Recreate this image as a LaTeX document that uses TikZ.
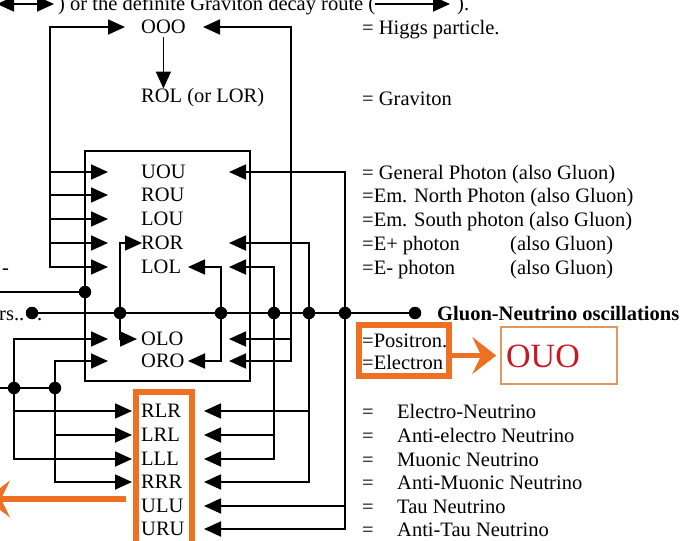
\documentclass[tikz,border=0pt]{standalone}
\usepackage{fontspec}
\setmainfont{Liberation Serif}
\usetikzlibrary{arrows.meta}
\definecolor{hlorange}{RGB}{237,112,35}
\definecolor{boxtan}{RGB}{222,152,98}
\definecolor{ouored}{RGB}{200,24,36}
\tikzset{
  wire/.style  ={line width=1.8pt},
  arr/.style   ={wire, -{Triangle[length=17pt,width=15pt]}},
  arrs/.style  ={wire, {Triangle[length=17pt,width=15pt]}-{Triangle[length=17pt,width=15pt]}},
  jdot/.style  ={circle, fill=black, inner sep=0pt, minimum size=12.5pt},
  code/.style  ={anchor=west, inner sep=0pt},
  lbl/.style   ={anchor=base west, inner sep=0pt},
  hilite/.style={draw=hlorange, line width=6pt},
  harr/.style  ={hlorange, line width=5.5pt, -{Stealth[length=24pt,width=37pt,inset=9pt]}},
}
\begin{document}
\begin{tikzpicture}[x=1pt,y=-1pt,font=\fontsize{20.5}{24}\selectfont]
  \useasboundingbox (0,0) rectangle (683,541);
  \clip (0,0) rectangle (683,541);
  % bus columns and arrow tip columns
  \coordinate (colA) at (50,0);  \coordinate (colB) at (120,0);
  \coordinate (colC) at (221,0); \coordinate (colD) at (274,0);
  \coordinate (colE) at (291,0); \coordinate (colF) at (309,0);
  \coordinate (colG) at (345,0); \coordinate (colH) at (14,0);
  \coordinate (colI) at (55,0);
  \coordinate (tipL) at (108,0); \coordinate (tipLb) at (132,0);
  \coordinate (tipR) at (229,0); \coordinate (tipRb) at (204,0);
  \coordinate (tipM) at (188,0); \coordinate (tipO) at (125,0);
  \coordinate (tipOr) at (203,0); \coordinate (tipS) at (142,0);
  \coordinate (tipSo) at (137,0);
  % header line (cut off)
  \coordinate (dblL) at (-3,4); \coordinate (dblR) at (54,4);
  \draw[arrs] (dblL) -- (dblR);
  \node[lbl] (route) at (58,10) {) or the definite Graviton decay route (};
  \coordinate (routeTip) at (450,4);
  \draw[arr] (route.east |- routeTip) -- (routeTip);
  \node[lbl] (routeEnd) at (457,10) {).};
  % codes
  \node[code] (OOO) at (141,27) {OOO};
  \node[code] (ROL) at (141,98) {ROL (or LOR)};
  \foreach \c/\y in {UOU/172,ROU/195,LOU/219,ROR/243,LOL/267,OLO/339,ORO/361,
                     RLR/411,LRL/435,LLL/459,RRR/482,ULU/506,URU/529}
    \node[code] (\c) at (141,\y) {\c};
  \draw[arr] ([yshift=-3pt]OOO.south) -- (OOO.south |- ROL.north);
  \draw[wire] (85,151) rectangle (250,381);
  % left feeds
  \draw[arrs] (tipL |- LOL) -| (colA |- OOO) -- (tipO |- OOO);
  \foreach \c in {UOU,ROU,LOU,ROR} \draw[arr] (colA |- \c) -- (tipL |- \c);
  \draw[arrs] (tipL |- OLO) -| (colH |- LLL) -- (tipLb |- LLL);
  \draw[arr] (colH |- RLR) -- (tipLb |- RLR);
  \draw[arrs] (tipL |- ORO) -| (colI |- RRR) -- (tipLb |- RRR);
  \draw[arr] (colI |- LRL) -- (tipLb |- LRL);
  % inner loops
  \draw[arrs] (tipS |- ROR) -| (colB |- OLO) -- (tipSo |- OLO);
  \draw[arrs] (tipM |- LOL) -| (colC |- ORO) -- (tipM |- ORO);
  % right feeds
  \draw[arrs] (tipR |- ORO) -| (colE |- OOO) -- (tipOr |- OOO);
  \draw[arr] (colE |- OLO) -- (tipR |- OLO);
  \draw[arrs] (tipR |- LOL) -| (colD |- LLL) -- (tipRb |- LLL);
  \draw[arr] (colD |- LRL) -- (tipRb |- LRL);
  \draw[arrs] (tipR |- ROR) -| (colF |- RRR) -- (tipRb |- RRR);
  \draw[arr] (colF |- RLR) -- (tipRb |- RLR);
  \draw[arrs] (tipR |- UOU) -| (colG |- URU) -- (tipRb |- URU);
  \draw[arr] (colG |- ULU) -- (tipRb |- ULU);
  % oscillation bus
  \node[jdot] (busL) at (32,313) {};
  \node[jdot] (busR) at (415,313) {};
  \draw[wire] (busL) -- (busR);
  \foreach \c in {colB,colC,colD,colF,colG} \node[jdot] (j\c) at (\c |- busL) {};
  \node[lbl] (others) at (-1,320) {rs..};
  \node[lbl] (othersDot) at (37,320) {.};
  \node[lbl] (dash) at (2,274) {-};
  \node[lbl] (osc) at (437,320) {\bfseries Gluon-Neutrino oscillations};
  \coordinate (feedW) at (0,292); \node[jdot] (jframe) at (85,292) {};
  \draw[wire] (feedW) -- (jframe);
  \coordinate (low) at (0,388);
  \node[jdot] (jH) at (colH |- low) {}; \node[jdot] (jI) at (colI |- low) {};
  \draw[wire] (low) -- (jI);
  % meanings
  \node[lbl] (higgs) at (362,34) {= Higgs particle.};
  \node[lbl] (grav)  at (362,105) {= Graviton};
  \node[lbl] (tUOU) at (362,179) {= General Photon (also Gluon)};
  \node[lbl] (tROU) at (362,202) {=Em. North Photon (also Gluon)};
  \node[lbl] (tLOU) at (362,226) {=Em. South photon (also Gluon)};
  \node[lbl] (tROR) at (362,250) {=E+ photon};
  \node[lbl] (tRORb) at (510,250) {(also Gluon)};
  \node[lbl] (tLOL) at (362,274) {=E- photon};
  \node[lbl] (tLOLb) at (510,274) {(also Gluon)};
  \node[lbl] (tOLO) at (362,347) {=Positron.};
  \node[lbl] (tORO) at (362,369) {=Electron};
  \foreach \t/\y in {Electro-Neutrino/411,Anti-electro Neutrino/435,Muonic Neutrino/459,
                     Anti-Muonic Neutrino/482,Tau Neutrino/506,Anti-Tau Neutrino/529}{
    \node[lbl] (eq\y) at (362,\y+7) {=};
    \node[lbl] (nu\y) at (397,\y+7) {\t};
  }
  % orange highlights
  \draw[hilite] (136,392) rectangle (192,560);
  \coordinate (hlA) at (126,499); \coordinate (hlTip) at (-14,499);
  \draw[harr] (hlA) -- (hlTip);
  \node[hilite, inner sep=0pt, minimum width=90pt, minimum height=51pt] (posbox) at (404,350.5) {};
  \node[draw=boxtan, line width=1.5pt, inner sep=0pt, minimum width=116pt, minimum height=57pt] (ouobox) at (559,355.5) {};
  \node[text=ouored, font=\fontsize{34}{34}\selectfont] (ouo) at (543,356) {OUO};
  \draw[harr, shorten >=4pt] (posbox.east |- ouobox) -- (ouobox.west);
\end{tikzpicture}
\end{document}
